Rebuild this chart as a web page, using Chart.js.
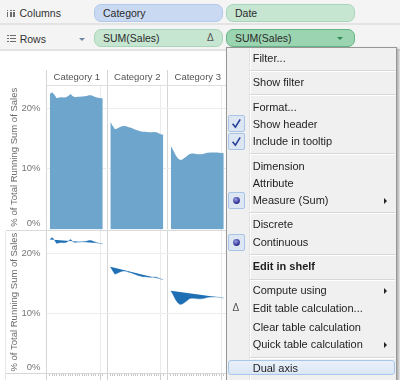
<!DOCTYPE html>
<html><head><meta charset="utf-8">
<script src="https://cdn.jsdelivr.net/npm/chart.js@4.4.1/dist/chart.umd.min.js"></script>
<style>
html,body{margin:0;padding:0;width:400px;height:380px;overflow:hidden;background:#fff;font-family:"Liberation Sans",Arial,sans-serif;}
.a{position:absolute;}
#shelf{position:absolute;left:0;top:0;width:400px;height:51px;background:#f4f4f4;}
.hsep{position:absolute;left:0;width:400px;height:2px;background:#e3e3e3;}
.lbl{position:absolute;font-size:10.5px;color:#333;line-height:14px;white-space:nowrap;}
.pill{position:absolute;height:18px;border-radius:7px;font-size:10.5px;line-height:16px;color:#2b2b2b;padding-left:8px;box-sizing:border-box;border:1px solid;white-space:nowrap;}
.blue{background:#c9d9f2;border-color:#b3c8ea;}
.green{background:#c6e6d2;border-color:#a9d6b9;}
.dgreen{background:#9bd4b0;border-color:#66b585;}
.tri-d{position:absolute;width:0;height:0;border-left:3px solid transparent;border-right:3px solid transparent;border-top:3.5px solid #6a86a8;}
.tri-r{position:absolute;width:0;height:0;border-top:3px solid transparent;border-bottom:3px solid transparent;border-left:3.5px solid #222;}
#menu{position:absolute;left:226px;top:47px;width:171px;height:345px;box-sizing:border-box;background:#f0f0f0;border:1px solid #979797;box-shadow:2px 2px 3px rgba(0,0,0,0.35);}
.mi{position:absolute;left:25.7px;font-size:11px;line-height:14px;color:#1e1e1e;white-space:nowrap;}
.ms{position:absolute;left:23px;width:145px;height:1px;background:#d7d7d7;border-bottom:1px solid #fff;}
.box{position:absolute;left:1px;width:17px;height:17px;box-sizing:border-box;background:#dde7f4;border:1px solid #a9c3e6;border-radius:2px;}
canvas{position:absolute;}
</style>
</head><body>

<div id="shelf">
  <div class="hsep" style="top:22.5px"></div>
  <div class="hsep" style="top:49px"></div>
  <div class="a" style="left:7px;top:9.5px;width:1.4px;height:1.2px;background:#6d6d6d"></div>
  <div class="a" style="left:10.2px;top:9.5px;width:1.4px;height:1.2px;background:#6d6d6d"></div>
  <div class="a" style="left:13.4px;top:9.5px;width:1.4px;height:1.2px;background:#6d6d6d"></div>
  <div class="a" style="left:7px;top:11.5px;width:1.4px;height:5px;background:#6d6d6d"></div>
  <div class="a" style="left:10.2px;top:11.5px;width:1.4px;height:5px;background:#6d6d6d"></div>
  <div class="a" style="left:13.4px;top:11.5px;width:1.4px;height:5px;background:#6d6d6d"></div>
  <div class="lbl" style="left:19.5px;top:6px">Columns</div>
  <div class="a" style="left:7px;top:35px;width:1.5px;height:1.3px;background:#6d6d6d"></div>
  <div class="a" style="left:7px;top:38px;width:1.5px;height:1.3px;background:#6d6d6d"></div>
  <div class="a" style="left:7px;top:41px;width:1.5px;height:1.3px;background:#6d6d6d"></div>
  <div class="a" style="left:9.5px;top:35px;width:6.5px;height:1.3px;background:#6d6d6d"></div>
  <div class="a" style="left:9.5px;top:38px;width:6.5px;height:1.3px;background:#6d6d6d"></div>
  <div class="a" style="left:9.5px;top:41px;width:6.5px;height:1.3px;background:#6d6d6d"></div>
  <div class="lbl" style="left:19.7px;top:32px">Rows</div>
  <div class="tri-d" style="left:79px;top:37.5px"></div>

  <div class="pill blue" style="left:94px;top:4px;width:129px">Category</div>
  <div class="pill green" style="left:226px;top:4px;width:129px">Date</div>
  <div class="pill green" style="left:94px;top:29px;width:129px">SUM(Sales)<span class="a" style="left:112px;top:0;color:#555;font-size:10px">Δ</span></div>
  <div class="pill dgreen" style="left:226px;top:29px;width:129px">SUM(Sales)</div>
  <div class="tri-d" style="left:337px;top:37px;border-top-color:#2f8a55;border-left-width:3.5px;border-right-width:3.5px;"></div>
</div>

<canvas id="top" width="230" height="178" style="left:0;top:52px;width:230px;height:178px"></canvas>
<div class="a" style="left:6px;top:230px;width:224px;height:1px;background:#dadada"></div>
<canvas id="bot" width="230" height="149" style="left:0;top:231px;width:230px;height:149px"></canvas>
<div class="a" style="left:6px;top:373px;width:41px;height:1px;background:#d6d6d6"></div>
<div class="a" style="left:5px;top:231px;width:1px;height:149px;background:#e6e6e6"></div>

<div id="menu">
  <div class="a" style="left:22px;top:0;width:1px;height:100%;background:#e2e2e2"></div>
  <div class="a" style="left:23px;top:0;width:1px;height:100%;background:#fff"></div>

  <div class="mi" style="top:3.3px">Filter...</div>
  <div class="ms" style="top:22.2px"></div>
  <div class="mi" style="top:27.3px">Show filter</div>
  <div class="ms" style="top:45.8px"></div>
  <div class="mi" style="top:51.7px">Format...</div>
  <div class="box" style="top:67.3px"><svg width="15" height="15" style="position:absolute;left:0;top:0"><path d="M3.6 7.8 L6.4 11.2 L11.2 3.4" stroke="#23409a" stroke-width="1.6" fill="none"/></svg></div>
  <div class="mi" style="top:69px">Show header</div>
  <div class="box" style="top:85px"><svg width="15" height="15" style="position:absolute;left:0;top:0"><path d="M3.6 7.8 L6.4 11.2 L11.2 3.4" stroke="#23409a" stroke-width="1.6" fill="none"/></svg></div>
  <div class="mi" style="top:86px">Include in tooltip</div>
  <div class="ms" style="top:104.8px"></div>
  <div class="mi" style="top:110.7px">Dimension</div>
  <div class="mi" style="top:127.7px">Attribute</div>
  <div class="box" style="top:143.5px"><svg width="15" height="15" style="position:absolute;left:0;top:0"><defs><radialGradient id="rg" cx="40%" cy="35%" r="60%"><stop offset="0" stop-color="#9aa0ea"/><stop offset="1" stop-color="#2a2d8a"/></radialGradient></defs><circle cx="7.5" cy="7.5" r="3.4" fill="url(#rg)"/></svg></div>
  <div class="mi" style="top:145px">Measure (Sum)</div>
  <div class="tri-r" style="left:157px;top:150px"></div>
  <div class="ms" style="top:164.2px"></div>
  <div class="mi" style="top:169.3px">Discrete</div>
  <div class="box" style="top:186.3px"><svg width="15" height="15" style="position:absolute;left:0;top:0"><circle cx="7.5" cy="7.5" r="3.4" fill="url(#rg)"/></svg></div>
  <div class="mi" style="top:187px">Continuous</div>
  <div class="ms" style="top:205.8px"></div>
  <div class="mi" style="top:211px;font-weight:bold">Edit in shelf</div>
  <div class="ms" style="top:230.5px"></div>
  <div class="mi" style="top:235px">Compute using</div>
  <div class="tri-r" style="left:157px;top:240px"></div>
  <div class="a" style="left:5.5px;top:254px;font-size:10px;line-height:12px;color:#555">Δ</div>
  <div class="mi" style="top:253.3px">Edit table calculation...</div>
  <div class="mi" style="top:271.7px">Clear table calculation</div>
  <div class="mi" style="top:289.3px">Quick table calculation</div>
  <div class="tri-r" style="left:157px;top:294.3px"></div>
  <div class="ms" style="top:308.8px"></div>
  <div class="a" style="left:1.3px;top:311.5px;width:166.5px;height:15.5px;box-sizing:border-box;background:linear-gradient(#e9f0f9,#dce7f5);border:1px solid #a8c6ea;border-radius:3px"></div>
  <div class="mi" style="top:312.7px">Dual axis</div>
</div>

<script>
// ---- data ----
const categories = ['Category 1', 'Category 2', 'Category 3'];
const months = ['Jan 2013','Feb 2013','Mar 2013','Apr 2013','May 2013','Jun 2013','Jul 2013','Aug 2013','Sep 2013','Oct 2013','Nov 2013','Dec 2013',
                'Jan 2014','Feb 2014','Mar 2014','Apr 2014','May 2014','Jun 2014','Jul 2014','Aug 2014','Sep 2014','Oct 2014','Nov 2014','Dec 2014'];
const cat1 = [22.3, 22.6, 22.2, 21.6, 21.75, 21.8, 21.75, 21.8, 22.0, 22.3, 21.95, 21.8, 21.85, 21.85, 21.9, 21.95, 22.0, 22.1, 22.1, 21.95, 21.8, 21.7, 21.6, 21.6];
const cat2 = [17.75, 17.1, 16.5, 16.65, 16.85, 17.0, 17.05, 17.0, 16.85, 16.75, 16.6, 16.45, 16.3, 16.2, 16.1, 16.1, 16.05, 16.0, 16.0, 16.05, 16.0, 15.85, 15.7, 15.6];
const cat3 = [13.75, 13.1, 12.3, 11.75, 11.45, 11.55, 11.8, 12.1, 12.4, 12.5, 12.5, 12.45, 12.4, 12.4, 12.45, 12.55, 12.65, 12.7, 12.7, 12.7, 12.7, 12.65, 12.6, 12.55];
const yTicks = [0, 10, 20];
const series = [cat1, cat2, cat3];

// ---- layout helpers (position inside each category pane) ----
const LEAD = 0.055, SPAN = 0.875, INNER = 0.885;
const xOf = (c, i) => c + LEAD + i * SPAN / (months.length - 1);
const toPoints = (vals, c) => vals.map((v, i) => ({x: xOf(c, i), y: v}));

Chart.defaults.font.family = '"Liberation Sans", Arial, sans-serif';
Chart.defaults.font.size = 9.5;
Chart.defaults.animation = false;

function yAxis(max) {
  return {
    type: 'linear', position: 'left', min: 0, max: max,
    afterBuildTicks: s => { s.ticks = yTicks.map(v => ({value: v})); },
    afterFit: s => { s.width = 46.5; s.paddingTop = 0; s.paddingBottom = 0; },
    ticks: { padding: 6, color: '#777', font: {size: 9.5, lineHeight: 1.35},
      callback: v => v === 0 ? ['0%', ''] : v + '%' },
    grid: { drawTicks: false, color: c => (c.tick && c.tick.value === 0) ? 'rgba(0,0,0,0)' : '#ececec' },
    border: { display: true, color: '#d6d6d6' },
    title: { display: true, text: '% of Total Running Sum of Sales', color: '#6b6b6b',
      font: {size: 9.5}, padding: {top: 9, bottom: 0} }
  };
}

const common = {
  responsive: false, devicePixelRatio: 1, animation: false,
  plugins: { legend: {display: false}, tooltip: {enabled: false} },
  elements: { point: {radius: 0, hoverRadius: 0}, line: {tension: 0} },
  events: []
};

new Chart(document.getElementById('top'), {
  type: 'line',
  data: {
    datasets: series.map((vals, c) => ({
      data: toPoints(vals, c), xAxisID: 'x', yAxisID: 'y',
      fill: 'origin', backgroundColor: 'rgb(110,165,205)', borderWidth: 0
    }))
  },
  options: Object.assign({}, common, {
    layout: { padding: {left: 0, right: 2, top: 18, bottom: 0.5} },
    scales: {
      xh: {
        type: 'category', labels: categories, position: 'top', offset: true,
        afterFit: s => { s.height = 15; s.paddingLeft = 0; s.paddingRight = 0; },
        grid: { offset: true, drawTicks: true, tickLength: 15, color: '#d6d6d6' },
        border: { display: true, color: '#e0e0e0' },
        ticks: { padding: -13.2, color: '#555', font: {size: 9.5}, maxRotation: 0, autoSkip: false }
      },
      x: {
        type: 'linear', position: 'bottom', min: 0, max: categories.length,
        afterBuildTicks: s => { s.ticks = categories.map((c, i) => ({value: i + INNER})); },
        afterFit: s => { s.height = 0; s.paddingLeft = 0; s.paddingRight = 0; },
        ticks: { display: false },
        grid: { drawTicks: false, color: '#ebebeb' },
        border: { display: false }
      },
      y: yAxis(23.8)
    }
  })
});

new Chart(document.getElementById('bot'), {
  type: 'line',
  data: {
    datasets: series.map((vals, c) => ({
      data: toPoints(vals, c), xAxisID: 'x', yAxisID: 'y',
      fill: 'shape', backgroundColor: '#1f6fb4', borderColor: 'rgba(31,111,180,0.55)', borderWidth: 0.7
    }))
  },
  options: Object.assign({}, common, {
    layout: { padding: {left: 0, right: 2, top: 0, bottom: 0} },
    scales: {
      x: {
        type: 'linear', position: 'bottom', min: 0, max: categories.length,
        afterBuildTicks: s => {
          const t = [];
          categories.forEach((c, i) => {
            t.push({value: i, kind: 'col'});
            months.forEach((m, j) => t.push({value: xOf(i, j), kind: 'minor'}));
            t.push({value: i + INNER, kind: 'inner'});
          });
          t.push({value: categories.length, kind: 'col'});
          t.sort((a, b) => a.value - b.value);
          s.ticks = t;
        },
        afterFit: s => { s.height = 6.7; s.paddingLeft = 0; s.paddingRight = 0; },
        ticks: { display: false },
        grid: {
          drawTicks: true, tickLength: 7,
          color: c => !c.tick ? 'rgba(0,0,0,0)' : c.tick.kind === 'col' ? '#d6d6d6' : c.tick.kind === 'inner' ? '#ebebeb' : 'rgba(0,0,0,0)',
          tickColor: c => (c.tick && c.tick.kind === 'minor') ? '#c8c8c8' : '#d0d0d0',
          tickBorderDash: c => (c.tick && c.tick.kind === 'minor') ? [2, 20] : []
        },
        border: { display: true, color: '#d6d6d6' }
      },
      y: yAxis(23.7)
    }
  })
});
</script>
</body></html>
